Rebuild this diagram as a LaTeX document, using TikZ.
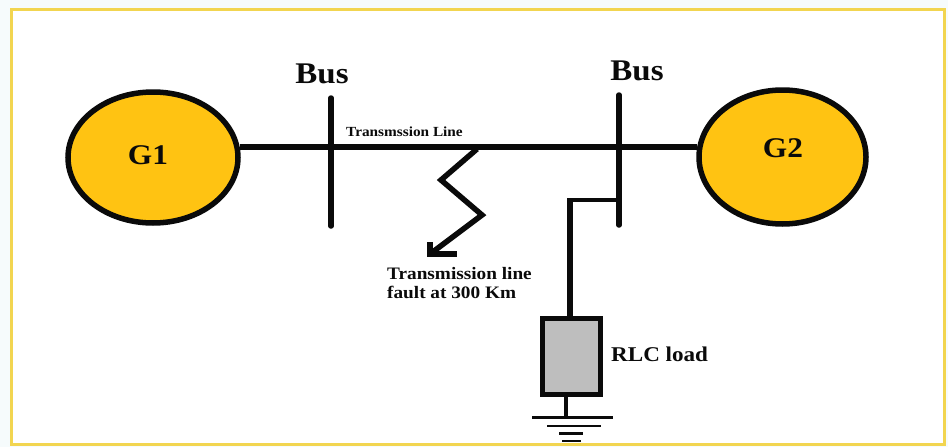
\documentclass[tikz,border=0pt]{standalone}
\usepackage{fontspec}
\setmainfont{Liberation Serif}
\newfontfamily\widefont[FakeStretch=1.1]{Liberation Serif Bold}
\usetikzlibrary{shapes.geometric}
\definecolor{gen}{HTML}{FFC312}
\definecolor{framey}{HTML}{F2D550}
\definecolor{loadg}{HTML}{BEBEBE}
\definecolor{ink}{HTML}{0A0A0A}
\definecolor{outside}{HTML}{F6FBFC}
\tikzset{
  gennode/.style={ellipse,draw=ink,line width=5.5pt,fill=gen,inner sep=0pt},
  wire/.style={draw=ink,line width=5.5pt},
  buswire/.style={draw=ink,line width=5.5pt,line cap=round},
  gnd/.style={draw=ink,line width=2.7pt},
  lab/.style={inner sep=0pt,text=ink}
}
\begin{document}
\begin{tikzpicture}[x=1pt,y=-1pt]
\useasboundingbox (0,0) rectangle (948,447);
\fill[outside] (0,0) rectangle (948,447);
\draw[framey,fill=white,line width=3pt] (11.5,9) -- (944,9) -- (944,444.5) -- (11.5,444.5) -- cycle;
% generators
\node[gennode,minimum width=170pt,minimum height=131pt] (G1) at (153,157.5) {};
\node[gennode,minimum width=167pt,minimum height=134pt] (G2) at (782.5,157) {};
\node[lab,font=\fontsize{28.5}{28.5}\widefont] (G1t) at (148,155) {G1};
\node[lab,font=\fontsize{28.5}{28.5}\widefont] (G2t) at (783,148) {G2};
% buses
\coordinate (b1t) at (331,98); \coordinate (b1b) at (331,226);
\coordinate (b2t) at (619,95); \coordinate (b2b) at (619,225);
\draw[buswire] (b1t) -- (b1b);
\draw[buswire] (b2t) -- (b2b);
\draw[wire] (G1.7) -- (G1.7 -| G2.173);
\node[lab,font=\fontsize{30}{30}\widefont] (bus1) at (322,74) {Bus};
\node[lab,font=\fontsize{30}{30}\widefont] (bus2) at (637,71) {Bus};
\node[lab,font=\fontsize{13.9}{13.9}\widefont] (tl) at (404.5,132) {Transmssion Line};
% fault
\coordinate (f0) at (477,149); \coordinate (f1) at (441,180);
\coordinate (f2) at (482,215); \coordinate (f3) at (430,254);
\coordinate (a1) at (430,242); \coordinate (a2) at (457,254);
\draw[wire,line join=miter] (f0) -- (f1) -- (f2) -- (f3);
\draw[wire,line join=miter] (a1) -- (f3) -- (a2);
\node[lab,align=left,anchor=north west,font=\fontsize{17.5}{19.5}\widefont] (ft) at (387,267) {Transmission line\\fault at 300 Km};
% load
\node[draw=ink,line width=5pt,fill=loadg,minimum width=58pt,minimum height=76pt,inner sep=0pt] (load) at (571.5,356.5) {};
\coordinate (bj) at (619,200); \coordinate (bc) at (570,200);
\draw[draw=ink,line width=4.5pt] (bj) -- (bc);
\draw[wire,line join=miter] (bc |- 0,198) -- (bc |- load.north);
% label
\node[lab,anchor=west,font=\fontsize{21}{21}\widefont] (lt) at (611,354) {RLC load};
% ground
\coordinate (g0) at (566,417);
\draw[draw=ink,line width=3.8pt] (load.south -| g0) -- (g0);
\coordinate (g1l) at (532,417.5); \coordinate (g1r) at (613,417.5);
\coordinate (g2l) at (547,426); \coordinate (g2r) at (601,426);
\coordinate (g3l) at (559,433.3); \coordinate (g3r) at (583,433.3);
\coordinate (g4l) at (562,441); \coordinate (g4r) at (581,441);
\draw[gnd] (g1l) -- (g1r);
\draw[gnd] (g2l) -- (g2r);
\draw[gnd] (g3l) -- (g3r);
\draw[gnd] (g4l) -- (g4r);
\end{tikzpicture}
\end{document}
